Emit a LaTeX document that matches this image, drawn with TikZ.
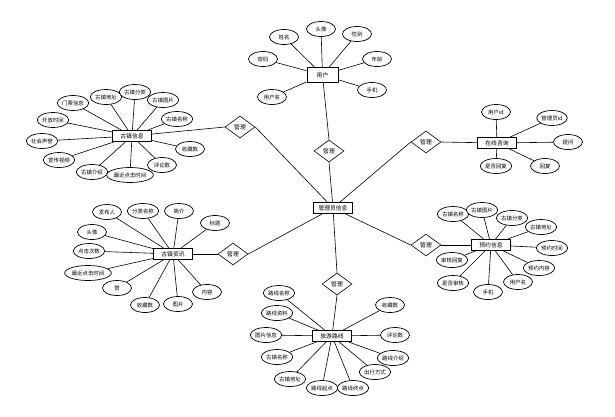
\documentclass[tikz,border=0pt]{standalone}
\usepackage{fontspec}
\newfontfamily\cjk{Noto Sans CJK SC}
\usetikzlibrary{shapes.geometric}
\pgfdeclarelayer{bg}
\pgfsetlayers{bg,main}
\begin{document}
\begin{tikzpicture}[x=1pt,y=-1pt,
 attr/.style={ellipse,draw,line width=0.7pt,fill=white,inner sep=0.3pt,minimum width=29pt,minimum height=15pt,font=\cjk\fontsize{5.4}{6}\selectfont},
 ent/.style={rectangle,draw,line width=1pt,fill=white,minimum width=39pt,minimum height=11pt,inner sep=1pt,font=\cjk\fontsize{5.8}{6}\selectfont},
 rel/.style={diamond,draw,line width=0.6pt,fill=white,minimum width=30pt,minimum height=22pt,inner sep=0pt,font=\cjk\fontsize{5.8}{6}\selectfont},
 link/.style={line width=0.6pt}]
\useasboundingbox (0,0) rectangle (615,416);
% central
\node[ent] (A) at (333,208) {管理员信息};
\node[rel] (dT) at (329,151) {管理};
\node[rel] (dUL) at (240,127) {管理};
\node[rel] (dUR) at (426,142) {管理};
\node[rel] (dLR) at (426,245) {管理};
\node[rel] (dLL) at (233,254) {管理};
\node[rel] (dB) at (337,284) {管理};
% user
\node[ent,minimum width=31pt,minimum height=15pt] (U) at (322.5,75) {用户};
\node[attr] (u1) at (263,59) {密码};
\node[attr] (u2) at (284,37) {姓名};
\node[attr] (u3) at (321,29) {头像};
\node[attr] (u4) at (357,34) {性别};
\node[attr] (u5) at (377,59) {年龄};
\node[attr] (u6) at (372,90) {手机};
\node[attr] (u7) at (272,97) {用户名};
% town info
\node[ent] (T) at (132,136) {古镇信息};
\node[attr] (t1) at (73,103) {门票信息};
\node[attr] (t2) at (106,97) {古镇地址};
\node[attr] (t3) at (135,92) {古镇分类};
\node[attr] (t4) at (163,100) {古镇图片};
\node[attr] (t5) at (177,119) {古镇名称};
\node[attr] (t6) at (190,149) {收藏数};
\node[attr] (t7) at (162,165) {评论数};
\node[attr] (t9) at (92,172) {古镇介绍};
\node[attr] (t8) at (130,175) {最近点击时间};
\node[attr] (t10) at (59,160) {宣传视频};
\node[attr] (t11) at (42,141) {社会声誉};
\node[attr] (t12) at (53,120) {开放时间};
% consult
\node[ent] (C) at (497,143) {在线咨询};
\node[attr] (c1) at (496,112) {用户id};
\node[attr] (c2) at (552,118) {管理员id};
\node[attr] (c3) at (568,142) {提问};
\node[attr] (c4) at (545,166) {回复};
\node[attr] (c5) at (496,166) {是否回复};
% reservation
\node[ent] (R) at (491,245) {预约信息};
\node[attr] (r1) at (453,214) {古镇名称};
\node[attr] (r2) at (482,210) {古镇图片};
\node[attr] (r3) at (512,218) {古镇分类};
\node[attr] (r4) at (541,227) {古镇地址};
\node[attr] (r5) at (552,248) {预约时间};
\node[attr] (r6) at (539,268) {预约内容};
\node[attr] (r7) at (518,282) {用户名};
\node[attr] (r8) at (488,292) {手机};
\node[attr] (r9) at (453,283) {是否审核};
\node[attr] (r10) at (452,260) {审核回复};
% news
\node[ent] (N) at (173,254) {古镇资讯};
\node[attr] (n1) at (107,212) {发布人};
\node[attr] (n2) at (143,211) {分类名称};
\node[attr] (n3) at (179,211) {简介};
\node[attr] (n4) at (215,223) {标题};
\node[attr] (n5) at (92,232) {头像};
\node[attr] (n6) at (89,251) {点击次数};
\node[attr] (n7) at (88,273) {最近点击时间};
\node[attr] (n8) at (117,288) {赞};
\node[attr] (n9) at (145,305) {收藏数};
\node[attr] (n10) at (178,304) {图片};
\node[attr] (n11) at (207,292) {内容};
% route
\node[ent] (L) at (332,336) {旅游路线};
\node[attr] (l1) at (279,293) {路线名称};
\node[attr] (l2) at (277,313) {路线资料};
\node[attr] (l3) at (266,335) {图片信息};
\node[attr] (l4) at (277,357) {古镇名称};
\node[attr] (l5) at (290,379) {古镇地址};
\node[attr] (l6) at (322,388) {路线起点};
\node[attr] (l7) at (353,388) {路线终点};
\node[attr] (l8) at (375,372) {出行方式};
\node[attr] (l9) at (393,358) {路线介绍};
\node[attr] (l10) at (395,335) {评论数};
\node[attr] (l11) at (390,305) {收藏数};
\begin{pgfonlayer}{bg}
\foreach \i in {1,...,7} \draw[link] (U) -- (u\i);
\foreach \i in {1,...,12} \draw[link] (T) -- (t\i);
\foreach \i in {1,...,5} \draw[link] (C) -- (c\i);
\foreach \i in {1,...,10} \draw[link] (R) -- (r\i);
\foreach \i in {1,...,11} \draw[link] (N) -- (n\i);
\foreach \i in {1,...,11} \draw[link] (L) -- (l\i);
\draw[link] (U) -- (dT.north);
\draw[link] (dT.south) -- (A);
\draw[link] (T) -- (dUL.west);
\draw[link] (dUL.east) -- (A);
\draw[link] (A) -- (dUR.west);
\draw[link] (dUR.east) -- (C);
\draw[link] (A) -- (dLR.west);
\draw[link] (dLR.east) -- (R);
\draw[link] (N) -- (dLL.west);
\draw[link] (dLL.east) -- (A);
\draw[link] (A) -- (dB.north);
\draw[link] (dB.south) -- (L);
\end{pgfonlayer}
\end{tikzpicture}
\end{document}
